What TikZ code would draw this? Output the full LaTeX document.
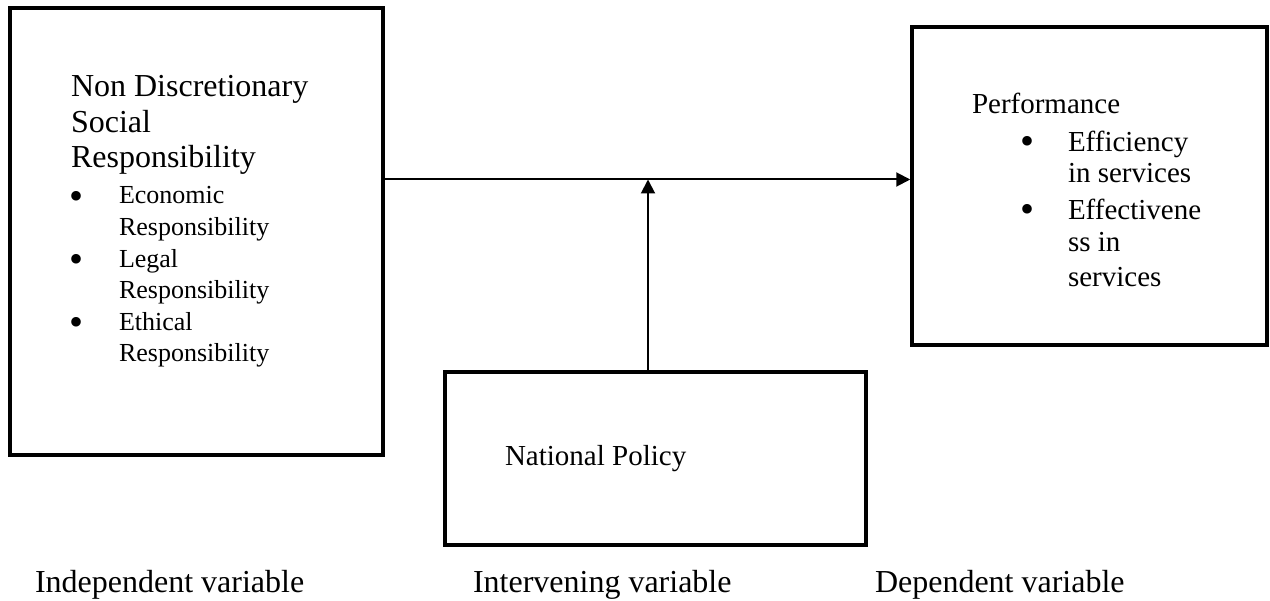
\documentclass[tikz,border=0pt]{standalone}
\usepackage{fontspec}
\setmainfont{Liberation Serif}
\usetikzlibrary{arrows.meta}
\tikzset{
  box/.style={draw, line width=3.5pt, inner sep=0pt, rectangle},
  conn/.style={line width=2pt, -{Triangle[length=14pt,width=14pt]}},
  txt/.style={anchor=base west, inner sep=0pt, outer sep=0pt},
  title/.style={txt, font=\fontsize{32}{36}\selectfont},
  item/.style={txt, font=\fontsize{26}{30}\selectfont},
  itemb/.style={txt, font=\fontsize{29}{33}\selectfont},
  bul/.style={anchor=center, inner sep=0pt, outer sep=0pt, font=\fontsize{40}{40}\selectfont},
  lab/.style={txt, font=\fontsize{32}{36}\selectfont}
}
\begin{document}
\begin{tikzpicture}[x=1pt,y=-1pt]
\useasboundingbox (0,0) rectangle (1270,601);
% boxes
\node[box, minimum width=373pt, minimum height=447pt] (L) at (196.5,231.5) {};
\node[box, minimum width=355pt, minimum height=318pt] (R) at (1089.5,186) {};
\node[box, minimum width=421pt, minimum height=173pt] (N) at (655.5,458.5) {};
% left box text
\node[title] (t1) at (71,97) {Non Discretionary};
\node[title] (t2) at (71,133) {Social};
\node[title] (t3) at (71,168) {Responsibility};
\node[bul] (b1) at (77,200) {•};
\node[item] (e1) at (119,204) {Economic};
\node[item] (e2) at (119,235.6) {Responsibility};
\node[bul] (b2) at (77,263.2) {•};
\node[item] (l1) at (119,267.2) {Legal};
\node[item] (l2) at (119,298.8) {Responsibility};
\node[bul] (b3) at (77,326.4) {•};
\node[item] (h1) at (119,330.4) {Ethical};
\node[item] (h2) at (119,362) {Responsibility};
% right box text
\node[itemb] (p0) at (972,114) {Performance};
\node[bul] (pb1) at (1027,145) {•};
\node[itemb] (p1) at (1068,152) {Efficiency};
\node[itemb] (p2) at (1068,183) {in services};
\node[bul] (pb2) at (1027,213) {•};
\node[itemb] (p3) at (1068,220) {Effectivene};
\node[itemb] (p4) at (1068,252) {ss in};
\node[itemb] (p5) at (1068,287) {services};
% national policy
\node[itemb] (np) at (505,466) {National Policy};
% bottom labels
\node[lab] (iv) at (35,592) {Independent variable};
\node[lab] (mv) at (473,592) {Intervening variable};
\node[lab] (dv) at (875,592) {Dependent variable};
% connectors
\coordinate (j) at (648,179.5);
\draw[conn] (L.east |- j) -- (R.west |- j);
\draw[conn] (N.north -| j) -- (j);
\end{tikzpicture}
\end{document}
